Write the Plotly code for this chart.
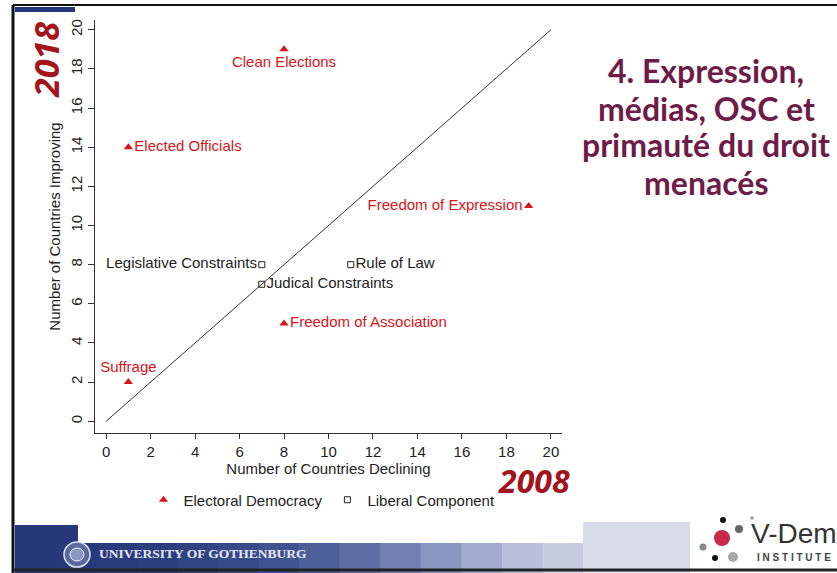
import plotly.graph_objects as go

# ---------------- data ----------------
ed_labels = ["Clean Elections", "Elected Officials", "Freedom of Expression", "Freedom of Association", "Suffrage"]
ed_declining = [8, 1, 19, 8, 1]
ed_improving = [19, 14, 11, 5, 2]
ed_textpos = ["bottom center", "middle right", "middle left", "middle right", "top center"]

lc_labels = ["Legislative Constraints", "Rule of Law", "Judical Constraints"]
lc_declining = [7, 11, 7]
lc_improving = [8, 8, 7]
lc_textpos = ["middle left", "middle right", "middle right"]

diag_x = [0, 20]
diag_y = [0, 20]

x_ticks = [0, 2, 4, 6, 8, 10, 12, 14, 16, 18, 20]
y_ticks = [0, 2, 4, 6, 8, 10, 12, 14, 16, 18, 20]

# ---------------- layout helpers ----------------
W, H = 837, 573
L, R, T, B = 95, 275, 20, 140
PW, PH = W - L - R, H - T - B


def px(xp):
    return (xp - L) / PW


def py(yp):
    return (H - B - yp) / PH


RED = "#d7141a"
FONT = "Liberation Sans, Arial, sans-serif"
FS = 15

fig = go.Figure()

fig.add_trace(go.Scatter(
    x=diag_x, y=diag_y, mode="lines",
    line=dict(color="#333333", width=1), showlegend=False, hoverinfo="skip"))

fig.add_trace(go.Scatter(
    x=ed_declining, y=ed_improving, mode="markers+text", name="Electoral Democracy",
    text=ed_labels, textposition=ed_textpos,
    textfont=dict(color=RED, size=FS, family=FONT),
    marker=dict(symbol="triangle-up", size=8, color=RED)))

fig.add_trace(go.Scatter(
    x=lc_declining, y=lc_improving, mode="markers+text", name="Liberal Component",
    text=lc_labels, textposition=lc_textpos,
    textfont=dict(color="#222222", size=FS, family=FONT),
    marker=dict(symbol="square-open", size=6, color="#222222", line=dict(width=1))))

fig.update_xaxes(
    range=[-0.5, 20.5], tickvals=x_ticks, ticks="outside", ticklen=5, tickcolor="#333",
    showline=True, linecolor="#333", linewidth=1, showgrid=False, zeroline=False,
    tickfont=dict(size=FS, color="#222", family=FONT),
    title=dict(text="Number of Countries Declining", font=dict(size=FS, color="#222", family=FONT), standoff=1))
fig.update_yaxes(
    range=[-0.6, 20.5], tickvals=y_ticks, ticks="outside", ticklen=6, tickcolor="#333",
    showline=True, linecolor="#333", linewidth=1, showgrid=False, zeroline=False, tickangle=-90,
    tickfont=dict(size=FS, color="#222", family=FONT),
    title=dict(text="Number of Countries Improving", font=dict(size=FS, color="#222", family=FONT), standoff=3))

shapes = []
# bottom banner gradient
cols = ["#26387a", "#27397b", "#293b7d", "#2c3e80", "#304383", "#364988", "#40528f",
        "#4d5f99", "#5e6fa5", "#7381b3", "#8a96c1", "#a1abcf", "#b6bfdb", "#c6cde3"]
n = len(cols)
x0p, x1p = 15, 583
for i, c in enumerate(cols):
    a = x0p + (x1p - x0p) * i / n
    b = x0p + (x1p - x0p) * (i + 1) / n
    shapes.append(dict(type="rect", xref="paper", yref="paper", x0=px(a), x1=px(b) + 0.003,
                       y0=py(573), y1=py(543), fillcolor=c, line=dict(width=0), layer="below"))
shapes.append(dict(type="rect", xref="paper", yref="paper", x0=px(15), x1=px(78),
                   y0=py(543), y1=py(525), fillcolor="#26387a", line=dict(width=0), layer="below"))
shapes.append(dict(type="rect", xref="paper", yref="paper", x0=px(583), x1=px(690),
                   y0=py(573), y1=py(522), fillcolor="#d9dde9", line=dict(width=0), layer="below"))
# seal
shapes.append(dict(type="circle", xref="paper", yref="paper", x0=px(64), x1=px(90),
                   y0=py(567), y1=py(542), line=dict(color="#dfe4f0", width=1.5), fillcolor="#5a6aa0"))
shapes.append(dict(type="circle", xref="paper", yref="paper", x0=px(70), x1=px(84),
                   y0=py(561), y1=py(548), line=dict(color="#eef0f6", width=1), fillcolor="#8c98c0"))
# slide frame
shapes.append(dict(type="line", xref="paper", yref="paper", x0=px(13), x1=px(13),
                   y0=py(573), y1=py(5), line=dict(color="#111", width=3)))
shapes.append(dict(type="line", xref="paper", yref="paper", x0=px(13), x1=px(837),
                   y0=py(5), y1=py(5), line=dict(color="#111", width=2)))
shapes.append(dict(type="line", xref="paper", yref="paper", x0=px(13), x1=px(837),
                   y0=py(570), y1=py(570), line=dict(color="#222", width=3)))
shapes.append(dict(type="rect", xref="paper", yref="paper", x0=px(15), x1=px(75),
                   y0=py(12), y1=py(7), fillcolor="#223677", line=dict(width=0)))
# V-Dem logo dots
dots = [(752, 518, 2, "#aaa"), (723, 520, 3, "#111"), (739, 529, 4, "#666"),
        (722, 538, 8, "#c8284a"), (703, 547, 3.5, "#888"), (715, 558, 3, "#111"), (733, 557, 5, "#aaa")]
for (cx, cy, r, c) in dots:
    shapes.append(dict(type="circle", xref="paper", yref="paper", x0=px(cx - r), x1=px(cx + r),
                       y0=py(cy + r), y1=py(cy - r), fillcolor=c, line=dict(width=0)))
fig.update_layout(shapes=shapes)

TITLE_COL = "#6e1c47"
title_lines = ["4. Expression,", "médias, OSC et", "primauté du droit", "menacés"]
title_y = [71, 108, 144, 182]

annotations = [
    dict(text="<b><i>2018</i></b>", x=px(46), y=py(60), xref="paper", yref="paper", showarrow=False,
         xanchor="center", yanchor="middle", textangle=-90,
         font=dict(size=34, color="#a3141d", family="Open Sans, sans-serif")),
    dict(text="<b><i>2008</i></b>", x=px(534), y=py(480), xref="paper", yref="paper", showarrow=False,
         xanchor="center", yanchor="middle",
         font=dict(size=32, color="#a3141d", family="Open Sans, sans-serif")),
    dict(text="<b>UNIVERSITY OF GOTHENBURG</b>", x=px(97), y=py(553), xref="paper", yref="paper",
         xanchor="left", yanchor="middle", showarrow=False,
         font=dict(size=13.5, color="#e4e8f2", family="Liberation Serif, serif")),
    dict(text="V-Dem", x=px(749), y=py(533), xref="paper", yref="paper", xanchor="left", yanchor="middle",
         showarrow=False, font=dict(size=28, color="#333", family="Liberation Sans, sans-serif")),
    dict(text="<b>I N S T I T U T E</b>", x=px(755), y=py(557), xref="paper", yref="paper",
         xanchor="left", yanchor="middle", showarrow=False, font=dict(size=10, color="#444", family=FONT)),
]
for t, yy in zip(title_lines, title_y):
    annotations.append(dict(text="<b>" + t + "</b>", x=px(706), y=py(yy), xref="paper", yref="paper",
                            xanchor="center", yanchor="middle", showarrow=False,
                            font=dict(size=32, color=TITLE_COL, family="Lato, sans-serif")))
fig.update_layout(annotations=annotations)

fig.update_layout(
    width=W, height=H, margin=dict(l=L, r=R, t=T, b=B, autoexpand=False),
    paper_bgcolor="white", plot_bgcolor="white",
    font=dict(family=FONT),
    legend=dict(orientation="h", x=px(322), y=py(500), xanchor="center", yanchor="middle",
                font=dict(size=FS, color="#222", family=FONT), bgcolor="rgba(0,0,0,0)",
                itemwidth=30, tracegroupgap=0),
)

fig.write_html("out.html", config={"displayModeBar": False},
               post_script="document.body.style.margin='0px';")
